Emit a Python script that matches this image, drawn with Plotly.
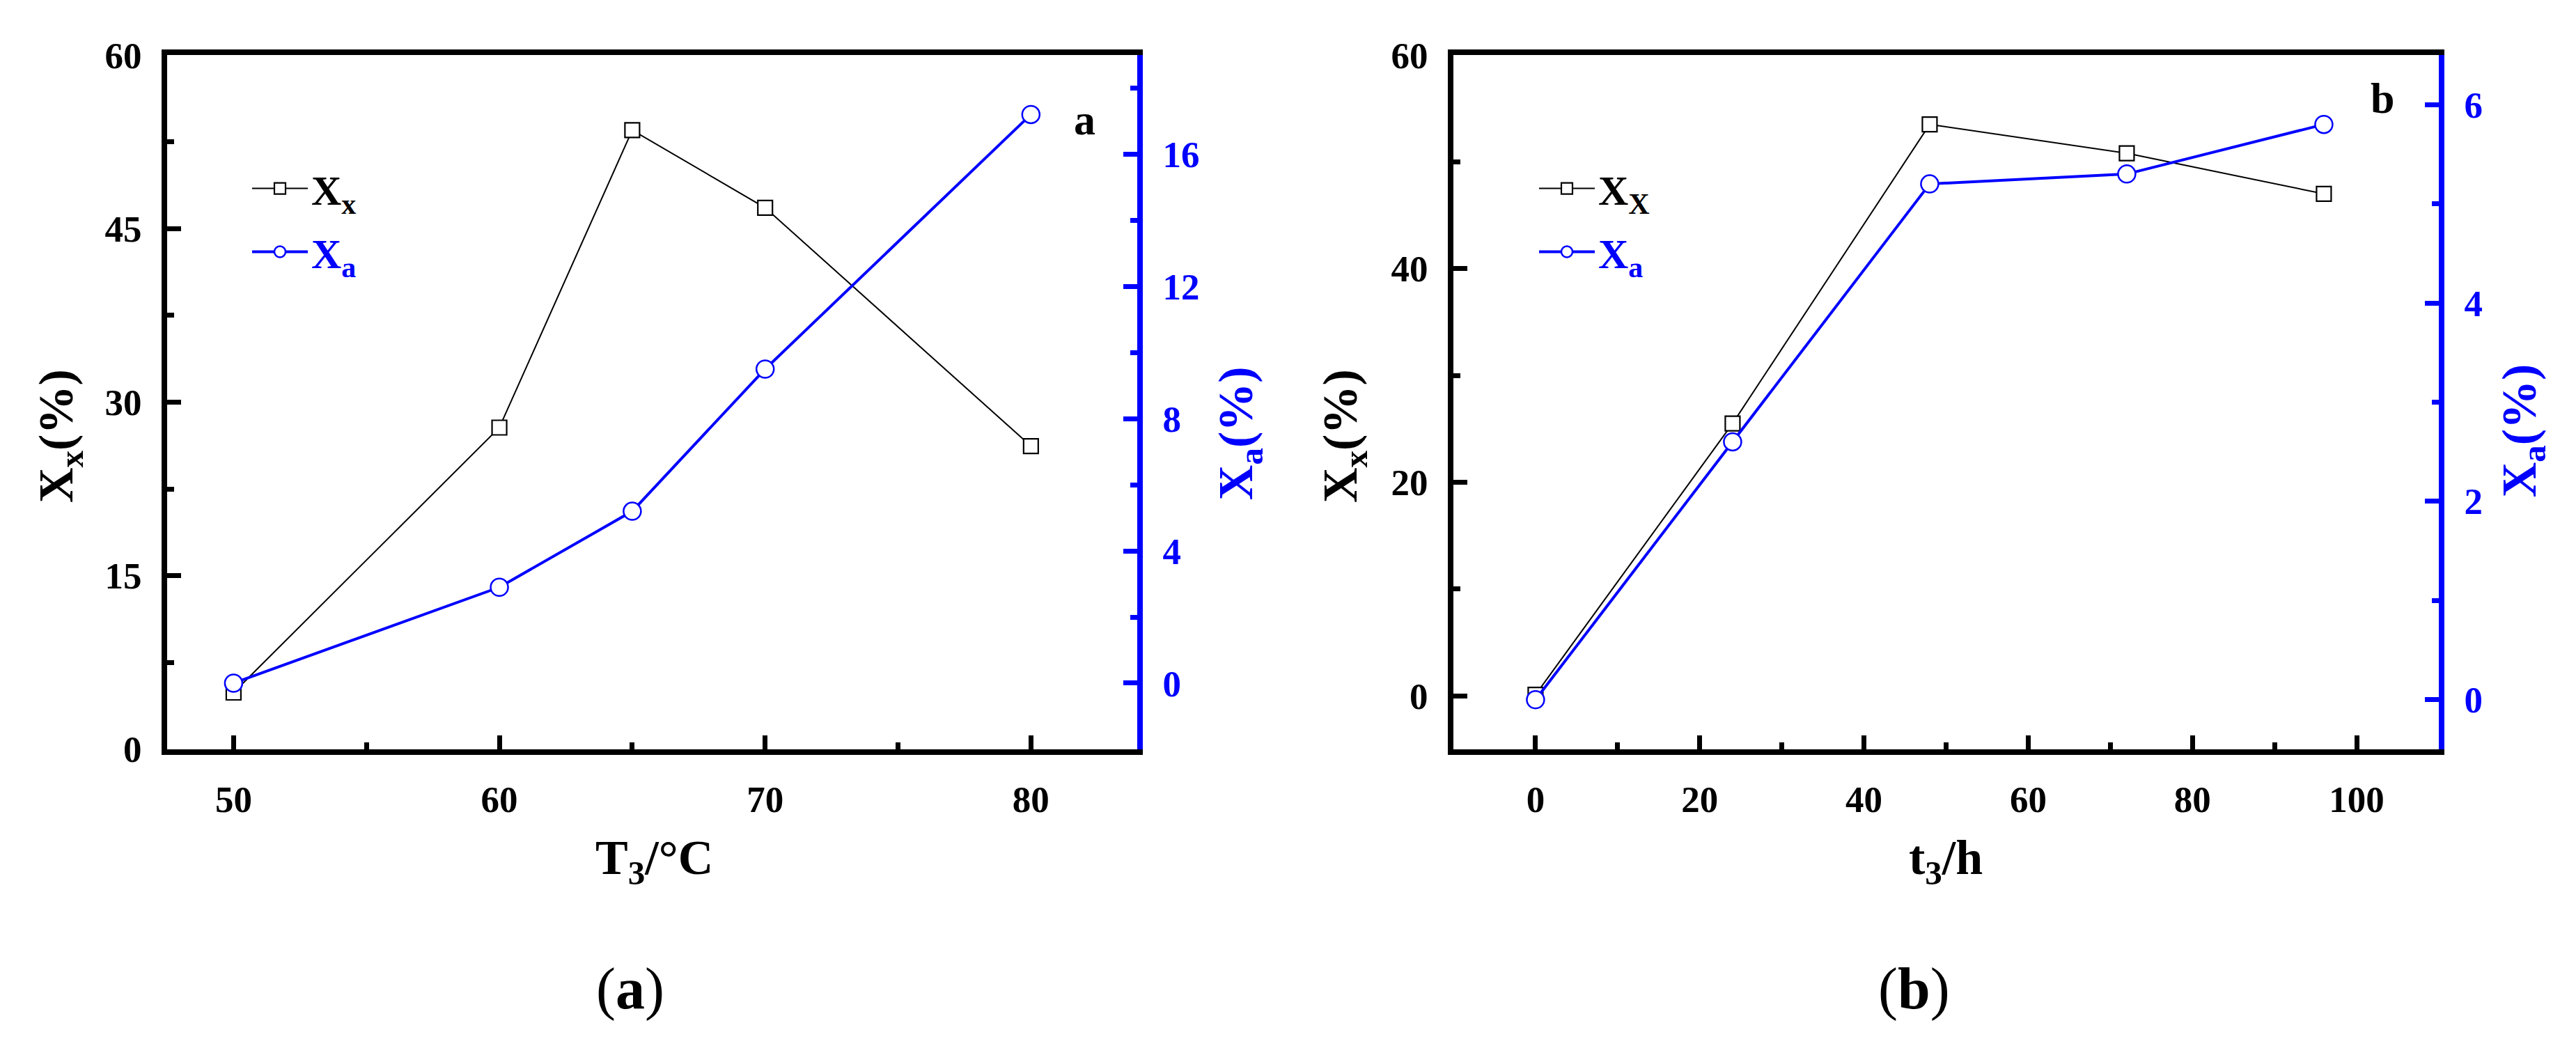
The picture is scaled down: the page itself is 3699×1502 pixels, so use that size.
import plotly.graph_objects as go

# panel (a): effect of temperature
temperature = [50, 60, 65, 70, 80]
xx_temperature = [4.9, 27.8, 53.5, 46.8, 26.2]
xa_temperature = [0.0, 2.9, 5.2, 9.5, 17.2]

# panel (b): effect of time
hours = [0, 24, 48, 72, 96]
xx_hours = [0.1, 25.5, 53.5, 50.8, 47.0]
xa_hours = [0.0, 2.6, 5.2, 5.3, 5.8]

W, H = 3699, 1502
BLUE = "#0000FF"
FONT = "Liberation Serif, Times New Roman, serif"


def px(x):
    return x / W


def py(y):
    return 1 - y / H


fig = go.Figure()


def add_pair(x, xx, xa, xaxis, yleft, yright, legend, xx_name):
    fig.add_trace(go.Scatter(
        x=x, y=xx, xaxis=xaxis, yaxis=yleft,
        mode="lines+markers", name=xx_name, legend=legend, legendgroup=legend + "xx",
        line=dict(color="black", width=2),
        marker=dict(symbol="square", size=21, color="white",
                    line=dict(color="black", width=2.2)),
    ))
    fig.add_trace(go.Scatter(
        x=x, y=xa, xaxis=xaxis, yaxis=yright,
        mode="lines+markers", name='<span style="color:#0000FF">X<sub>a</sub></span>',
        legend=legend, legendgroup=legend + "xa",
        line=dict(color=BLUE, width=4),
        marker=dict(symbol="circle", size=25, color="white",
                    line=dict(color=BLUE, width=2.5)),
    ))


add_pair(temperature, xx_temperature, xa_temperature, "x", "y", "y2", "legend", "X<sub>x</sub>")
add_pair(hours, xx_hours, xa_hours, "x2", "y3", "y4", "legend2", "X<sub>X</sub>")

tick_font = dict(family=FONT, size=53, weight="bold", color="black")
blue_tick_font = dict(family=FONT, size=53, weight="bold", color=BLUE)


def xaxis(domain, rng, dtick, minor, anchor):
    return dict(
        domain=domain, range=rng, anchor=anchor, tick0=0, dtick=dtick,
        showline=True, linecolor="black", linewidth=8, mirror=True,
        ticks="inside", ticklen=20, tickwidth=7, tickcolor="black",
        minor=dict(dtick=minor, ticks="inside", ticklen=10, tickwidth=7, tickcolor="black"),
        showgrid=False, zeroline=False, tickfont=tick_font, ticklabelstandoff=18,
    )


def yaxis(domain, rng, dtick, minor, anchor, color="black", side="left", overlaying=None):
    d = dict(
        domain=domain, range=rng, anchor=anchor, side=side, tick0=0, dtick=dtick,
        showline=True, linecolor=color, linewidth=8,
        ticks="inside", ticklen=20, tickwidth=7, tickcolor=color,
        minor=dict(dtick=minor, ticks="inside", ticklen=10, tickwidth=7, tickcolor=color),
        showgrid=False, zeroline=False,
        tickfont=tick_font if color == "black" else blue_tick_font, ticklabelstandoff=18,
    )
    if overlaying:
        d["overlaying"] = overlaying
    return d


ydom = [py(1090), py(53)]
dom_a = [px(240), px(1633)]
dom_b = [px(2087), px(3502)]

fig.update_layout(
    width=W, height=H,
    margin=dict(l=0, r=0, t=0, b=0),
    paper_bgcolor="white", plot_bgcolor="white",
    xaxis=xaxis(dom_a, [47.5, 84], 10, 5, "y"),
    yaxis=yaxis(ydom, [0, 60], 15, 7.5, "x"),
    yaxis2=yaxis(ydom, [-2, 19], 4, 2, "x", BLUE, "right", "y"),
    xaxis2=xaxis(dom_b, [-10, 110], 20, 10, "y3"),
    yaxis3=yaxis(ydom, [-5, 60], 20, 10, "x2"),
    yaxis4=yaxis(ydom, [-0.5, 6.5], 2, 1, "x2", BLUE, "right", "y3"),
    legend=dict(x=px(357), y=py(205), xanchor="left", yanchor="top",
                bgcolor="rgba(0,0,0,0)", itemwidth=80, tracegroupgap=10,
                font=dict(family=FONT, size=60, weight="bold", color="black")),
    legend2=dict(x=px(2205), y=py(205), xanchor="left", yanchor="top",
                 bgcolor="rgba(0,0,0,0)", itemwidth=80, tracegroupgap=10,
                 font=dict(family=FONT, size=60, weight="bold", color="black")),
    showlegend=True,
)

title_font = dict(family=FONT, size=70, weight="bold", color="black")
blue_title_font = dict(family=FONT, size=70, weight="bold", color=BLUE)

texts = [
    # axis titles
    ("X<sub>x</sub>(%)", 86, 622, -90, title_font),
    ("X<sub>a</sub>(%)", 1780, 618, -90, blue_title_font),
    ("X<sub>x</sub>(%)", 1930, 622, -90, title_font),
    ("X<sub>a</sub>(%)", 3623, 614, -90, blue_title_font),
    ("T<sub>3</sub>/°C", 939, 1258, 0, title_font),
    ("t<sub>3</sub>/h", 2794, 1258, 0, title_font),
    # panel letters
    ("a", 1557, 150, 0, dict(family=FONT, size=62, weight="bold", color="black")),
    ("b", 3421, 118, 0, dict(family=FONT, size=62, weight="bold", color="black")),
    # captions
    ("(<b>a</b>)", 905, 1448, 0, dict(family=FONT, size=84, color="black")),
    ("(<b>b</b>)", 2748, 1448, 0, dict(family=FONT, size=84, color="black")),
]
for text, x, y, angle, font in texts:
    fig.add_annotation(
        text=text, x=px(x), y=py(y), xref="paper", yref="paper",
        xanchor="center", yanchor="middle", textangle=angle,
        showarrow=False, font=font,
    )

fig.write_html("out.html", config={"displayModeBar": False},
               post_script="document.body.style.margin='0';")
